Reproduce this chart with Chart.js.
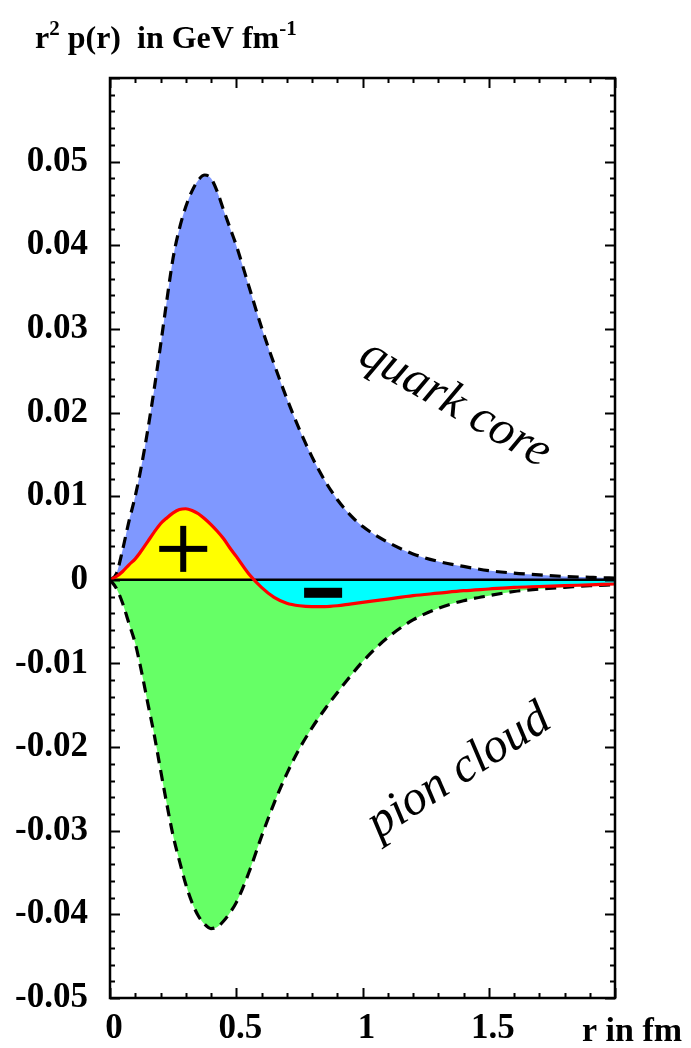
<!DOCTYPE html>
<html>
<head>
<meta charset="utf-8">
<title>r2 p(r) pressure distribution</title>
<script src="https://cdn.jsdelivr.net/npm/chart.js@4/dist/chart.umd.min.js"></script>
<style>
  html, body { margin: 0; padding: 0; background: #fff; }
  canvas { display: block; }
</style>
</head>
<body>
<canvas id="pressure" width="691" height="1048"></canvas>
<script>
// r in fm
const radius = [0, 0.025, 0.05, 0.075, 0.1, 0.125, 0.15, 0.175, 0.2, 0.225, 0.25, 0.275, 0.3,
  0.325, 0.35, 0.375, 0.4, 0.425, 0.45, 0.475, 0.5, 0.55, 0.6, 0.65, 0.7, 0.75, 0.8, 0.85,
  0.9, 0.95, 1.0, 1.1, 1.2, 1.3, 1.4, 1.5, 1.6, 1.7, 1.8, 1.9, 2.0];

// r^2 p(r) in GeV/fm
const quarkCore = [0, 0.0007, 0.0036, 0.0070, 0.0100, 0.0137, 0.0180, 0.0228, 0.0280, 0.0334,
  0.0385, 0.0420, 0.0446, 0.0465, 0.0478, 0.0484, 0.0480, 0.0464, 0.0442, 0.0421, 0.0400,
  0.0351, 0.0302, 0.0258, 0.0217, 0.0180, 0.0147, 0.0119, 0.0096, 0.0078, 0.0064, 0.0045,
  0.0031, 0.0022, 0.0016, 0.0011, 0.0008, 0.0006, 0.0004, 0.0003, 0.0002];

const pionCloud = [0, -0.0010, -0.0028, -0.0052, -0.0076, -0.0110, -0.0148, -0.0185, -0.0227,
  -0.0268, -0.0306, -0.0336, -0.0364, -0.0386, -0.0402, -0.0412, -0.0417, -0.0415, -0.0408,
  -0.0398, -0.0386, -0.0350, -0.0307, -0.0267, -0.0232, -0.0202, -0.0177, -0.0155, -0.0135,
  -0.0116, -0.0098, -0.0069, -0.0048, -0.0034, -0.0025, -0.0019, -0.0014, -0.0011, -0.0009,
  -0.0007, -0.0006];

const total = [0, 0.0004, 0.0010, 0.0018, 0.0025, 0.0035, 0.0046, 0.0057, 0.0067, 0.0074,
  0.0080, 0.0084, 0.0085, 0.0083, 0.0079, 0.0073, 0.0066, 0.0058, 0.0049, 0.0038, 0.0028,
  0.0007, -0.0009, -0.0021, -0.0028, -0.0031, -0.0032, -0.0032, -0.0031, -0.0029, -0.0027,
  -0.0023, -0.0019, -0.0016, -0.0013, -0.0011, -0.0009, -0.0008, -0.0007, -0.0006, -0.0005];

const xTickValues = [0, 0.5, 1, 1.5];
const xTickLabels = ['0', '0.5', '1', '1.5'];
const yTickValues = [-0.05, -0.04, -0.03, -0.02, -0.01, 0, 0.01, 0.02, 0.03, 0.04, 0.05];
const yTickLabels = ['-0.05', '-0.04', '-0.03', '-0.02', '-0.01', '0', '0.01', '0.02', '0.03', '0.04', '0.05'];

// where the sign markers sit (r, value)
const plusAt = [0.29, 0.0037];
const minusAt = [0.844, -0.00155];

const toPoints = (ys) => radius.map((r, i) => ({ x: r, y: ys[i] }));
const labelFont = { family: 'Liberation Serif', weight: 'bold', size: 35 };

const decorations = {
  id: 'decorations',
  afterDatasetsDraw(chart) {
    const { ctx, scales: { x, y } } = chart;
    ctx.save();
    ctx.fillStyle = '#000';
    // "+" in the positive lobe
    let cx = x.getPixelForValue(plusAt[0]), cy = y.getPixelForValue(plusAt[1]);
    ctx.fillRect(cx - 24, cy - 3, 48, 6);
    ctx.fillRect(cx - 3, cy - 23, 6, 46);
    // "-" in the negative lobe
    cx = x.getPixelForValue(minusAt[0]); cy = y.getPixelForValue(minusAt[1]);
    ctx.fillRect(cx - 19, cy - 5, 38, 10);
    ctx.restore();
  },
  afterDraw(chart) {
    const { ctx, chartArea: a, scales: { x, y } } = chart;
    ctx.save();
    ctx.strokeStyle = '#000';

    // inward tick marks on all four sides
    ctx.lineWidth = 2;
    ctx.beginPath();
    for (let i = 0; i <= 20; i++) {
      const v = i / 10;
      const px = Math.round(x.getPixelForValue(v)) + 0.5;
      const len = i % 5 === 0 ? 10 : 5;
      ctx.moveTo(px, a.bottom); ctx.lineTo(px, a.bottom - len);
      ctx.moveTo(px, a.top); ctx.lineTo(px, a.top + len);
    }
    for (let i = -25; i <= 30; i++) {
      const v = i * 0.002;
      const py = Math.round(y.getPixelForValue(v)) + 0.5;
      const len = i % 5 === 0 ? 10 : 5;
      ctx.moveTo(a.left, py); ctx.lineTo(a.left + len, py);
      ctx.moveTo(a.right, py); ctx.lineTo(a.right - len, py);
    }
    ctx.stroke();

    // frame
    ctx.lineWidth = 2.5;
    ctx.strokeRect(a.left, a.top, a.right - a.left, a.bottom - a.top);

    // axis titles
    ctx.fillStyle = '#000';
    ctx.textBaseline = 'alphabetic';
    ctx.font = 'bold 34px "Liberation Serif"';
    ctx.textAlign = 'center';
    ctx.fillText('r in fm', 632, 1041);

    ctx.textAlign = 'left';
    let tx = 35;
    const base = 48;
    const parts = [['r', 32, 0], ['2', 21, -13], [' p(r)  in GeV fm', 32, 0], ['-1', 21, -13]];
    for (const [s, size, dy] of parts) {
      ctx.font = 'bold ' + size + 'px "Liberation Serif"';
      ctx.fillText(s, tx, base + dy);
      tx += ctx.measureText(s).width;
    }

    // curve names
    ctx.font = 'italic 49px "Liberation Serif"';
    ctx.textAlign = 'center';
    ctx.translate(456, 402);
    ctx.rotate(30 * Math.PI / 180);
    ctx.fillText('quark core', 0, 15);
    ctx.setTransform(1, 0, 0, 1, 0, 0);
    ctx.translate(458, 770);
    ctx.rotate(-33 * Math.PI / 180);
    ctx.fillText('pion cloud', 0, 15);
    ctx.restore();
  }
};

new Chart(document.getElementById('pressure'), {
  type: 'scatter',
  data: {
    datasets: [
      {
        label: 'total',
        data: toPoints(total),
        showLine: true,
        borderColor: '#ff0000',
        borderWidth: 3.2,
        pointRadius: 0,
        cubicInterpolationMode: 'monotone',
        fill: { target: 'origin', above: '#ffff00', below: '#00ffff' },
      },
      {
        label: 'quark core',
        data: toPoints(quarkCore),
        showLine: true,
        borderColor: '#000',
        borderWidth: 3.2,
        borderDash: [11, 7],
        pointRadius: 0,
        cubicInterpolationMode: 'monotone',
        fill: { target: 'origin', above: '#7f98ff' },
      },
      {
        label: 'pion cloud',
        data: toPoints(pionCloud),
        showLine: true,
        borderColor: '#000',
        borderWidth: 3.2,
        borderDash: [11, 7],
        pointRadius: 0,
        cubicInterpolationMode: 'monotone',
        fill: { target: 'origin', below: '#66ff66' },
      },
      {
        label: 'zero',
        data: [{ x: 0, y: 0 }, { x: 2, y: 0 }],
        showLine: true,
        borderColor: '#000',
        borderWidth: 2.5,
        pointRadius: 0,
        fill: false,
      },
    ],
  },
  options: {
    responsive: false,
    animation: false,
    devicePixelRatio: 1,
    layout: { padding: { top: 78, right: 76, bottom: 0, left: 0 } },
    plugins: {
      legend: { display: false },
      tooltip: { enabled: false },
      filler: { drawTime: 'beforeDatasetsDraw' },
    },
    scales: {
      x: {
        type: 'linear',
        min: 0,
        max: 2,
        grid: { display: false, drawTicks: false },
        border: { display: false },
        afterBuildTicks: (scale) => { scale.ticks = xTickValues.map((v) => ({ value: v })); },
        afterFit: (scale) => { scale.height = 50; },
        ticks: {
          color: '#000',
          font: labelFont,
          padding: 10,
          labelOffset: 4,
          maxRotation: 0,
          callback: (v) => xTickLabels[xTickValues.indexOf(v)],
        },
      },
      y: {
        min: -0.05,
        max: 0.06,
        grid: { display: false, drawTicks: false },
        border: { display: false },
        afterBuildTicks: (scale) => { scale.ticks = yTickValues.map((v) => ({ value: v })); },
        afterFit: (scale) => { scale.width = 110; },
        ticks: {
          color: '#000',
          font: labelFont,
          padding: 22,
          callback: (v) => yTickLabels[yTickValues.indexOf(v)],
        },
      },
    },
  },
  plugins: [decorations],
});
</script>
</body>
</html>
